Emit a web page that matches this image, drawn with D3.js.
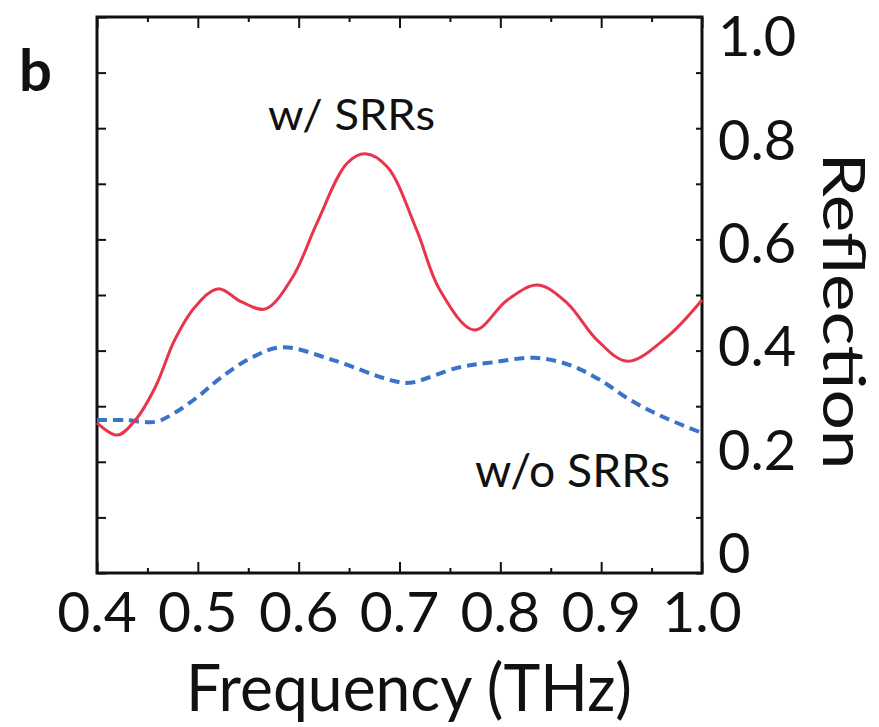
<!DOCTYPE html>
<html>
<head>
<meta charset="utf-8">
<script src="https://cdn.jsdelivr.net/npm/d3@7"></script>
<style>
  body { margin: 0; background: #fff; }
  svg text { font-family: Lato, "Open Sans", sans-serif; fill: #111; }
</style>
</head>
<body>
<div id="chart"></div>
<script>
// Values
var freqSRR = [0.400, 0.420, 0.438, 0.458, 0.477, 0.497, 0.520, 0.544, 0.567, 0.594, 0.618, 0.648,
  0.666, 0.688, 0.717, 0.740, 0.774, 0.807, 0.837, 0.866, 0.896, 0.926, 0.965, 1.000];
var reflSRR = [0.270, 0.248, 0.275, 0.335, 0.419, 0.478, 0.511, 0.487, 0.475, 0.532, 0.629, 0.737,
  0.754, 0.730, 0.617, 0.509, 0.437, 0.491, 0.518, 0.486, 0.419, 0.381, 0.424, 0.491];

var freqNoSRR = [0.400, 0.428, 0.458, 0.477, 0.500, 0.524, 0.554, 0.584, 0.634, 0.691, 0.710,
  0.757, 0.793, 0.834, 0.869, 0.899, 0.929, 0.961, 1.000];
var reflNoSRR = [0.275, 0.275, 0.272, 0.288, 0.317, 0.353, 0.388, 0.406, 0.383, 0.347, 0.342,
  0.369, 0.379, 0.387, 0.374, 0.347, 0.311, 0.281, 0.252];

var xMajorTicks = [0.4, 0.5, 0.6, 0.7, 0.8, 0.9, 1.0];
var xMinorTicks = [0.45, 0.55, 0.65, 0.75, 0.85, 0.95];
var xTickLabels = ["0.4", "0.5", "0.6", "0.7", "0.8", "0.9", "1.0"];
var yTicks = [0, 0.1, 0.2, 0.3, 0.4, 0.5, 0.6, 0.7, 0.8, 0.9, 1.0];
var yLabelValues = [0, 0.2, 0.4, 0.6, 0.8, 1.0];
var yTickLabels = ["0", "0.2", "0.4", "0.6", "0.8", "1.0"];

// Chart area
var svgWidth = 879;
var svgHeight = 727;
var margin = { top: 17, right: 177, bottom: 154, left: 97 };
var width = svgWidth - margin.left - margin.right;
var height = svgHeight - margin.top - margin.bottom;

var svg = d3.select("#chart")
  .append("svg")
  .attr("width", svgWidth)
  .attr("height", svgHeight);

var chartGroup = svg.append("g")
  .attr("transform", `translate(${margin.left}, ${margin.top})`);

// Scales
var xScale = d3.scaleLinear().domain([0.4, 1.0]).range([0, width]);
var yScale = d3.scaleLinear().domain([0, 1]).range([height, 0]);
// tick labels on the right are spread a bit inside the axis ends
var yLabelScale = d3.scaleLinear().domain([0, 1]).range([height - 20, 19]);

// Inward ticks on all four sides
function styleAxis(g) {
  g.select(".domain").remove();
  g.selectAll(".tick line").attr("stroke", "#111").attr("stroke-width", 2);
  g.selectAll("text").remove();
}

chartGroup.append("g")
  .attr("transform", `translate(0, ${height})`)
  .call(d3.axisBottom(xScale).tickValues(xMajorTicks).tickSize(-11))
  .call(styleAxis);
chartGroup.append("g")
  .attr("transform", `translate(0, ${height})`)
  .call(d3.axisBottom(xScale).tickValues(xMinorTicks).tickSize(-5))
  .call(styleAxis);
chartGroup.append("g")
  .call(d3.axisTop(xScale).tickValues(xMajorTicks).tickSize(-11))
  .call(styleAxis);
chartGroup.append("g")
  .call(d3.axisTop(xScale).tickValues(xMinorTicks).tickSize(-5))
  .call(styleAxis);
chartGroup.append("g")
  .call(d3.axisLeft(yScale).tickValues(yTicks).tickSize(-9))
  .call(styleAxis);
chartGroup.append("g")
  .attr("transform", `translate(${width}, 0)`)
  .call(d3.axisRight(yScale).tickValues(yTicks).tickSize(-6))
  .call(styleAxis);

// Frame
chartGroup.append("rect")
  .attr("width", width)
  .attr("height", height)
  .attr("fill", "none")
  .attr("stroke", "#111")
  .attr("stroke-width", 3);

// Curves
var lineGen = d3.line()
  .x(d => xScale(d[0]))
  .y(d => yScale(d[1]))
  .curve(d3.curveCatmullRom.alpha(0.5));

chartGroup.append("path")
  .datum(d3.zip(freqNoSRR, reflNoSRR))
  .attr("d", lineGen)
  .attr("fill", "none")
  .attr("stroke", "#3a73c8")
  .attr("stroke-width", 4)
  .attr("stroke-dasharray", "10,6");

chartGroup.append("path")
  .datum(d3.zip(freqSRR, reflSRR))
  .attr("d", lineGen)
  .attr("fill", "none")
  .attr("stroke", "#e8354c")
  .attr("stroke-width", 3);

// Tick labels
chartGroup.selectAll(".xLabel")
  .data(xMajorTicks)
  .enter()
  .append("text")
  .attr("class", "xLabel")
  .attr("x", d => xScale(d))
  .attr("y", height + 59)
  .attr("text-anchor", "middle")
  .attr("font-size", 57)
  .text((d, i) => xTickLabels[i]);

chartGroup.selectAll(".yLabel")
  .data(yLabelValues)
  .enter()
  .append("text")
  .attr("class", "yLabel")
  .attr("x", width + 16)
  .attr("y", d => yLabelScale(d))
  .attr("dy", "0.36em")
  .attr("font-size", 56)
  .text((d, i) => yTickLabels[i]);

// Axis titles
chartGroup.append("text")
  .attr("x", 312)
  .attr("y", height + 138)
  .attr("text-anchor", "middle")
  .attr("font-size", 66)
  .attr("textLength", 446)
  .attr("lengthAdjust", "spacingAndGlyphs")
  .text("Frequency (THz)");

chartGroup.append("text")
  .attr("transform", `translate(${width + 121}, ${height / 2 + 16}) rotate(90)`)
  .attr("text-anchor", "middle")
  .attr("font-size", 58)
  .attr("textLength", 317)
  .attr("lengthAdjust", "spacingAndGlyphs")
  .text("Reflection");

// Annotations
chartGroup.append("text")
  .attr("x", 171)
  .attr("y", 113)
  .attr("font-size", 42)
  .attr("textLength", 167)
  .attr("lengthAdjust", "spacingAndGlyphs")
  .text("w/ SRRs");

chartGroup.append("text")
  .attr("x", 378)
  .attr("y", 470)
  .attr("font-size", 47)
  .attr("textLength", 195)
  .attr("lengthAdjust", "spacingAndGlyphs")
  .text("w/o SRRs");

// Panel letter
svg.append("text")
  .attr("x", 19)
  .attr("y", 91)
  .attr("font-size", 58)
  .attr("font-weight", 700)
  .text("b");
</script>
</body>
</html>
